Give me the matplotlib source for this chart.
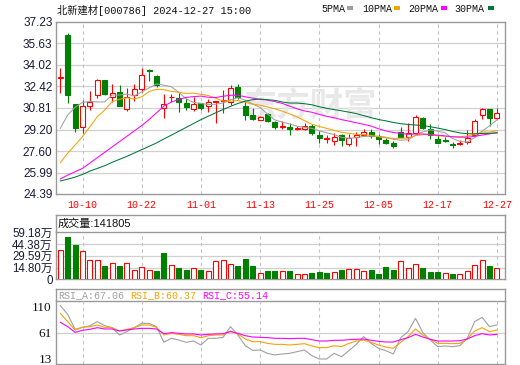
import matplotlib
matplotlib.use('Agg')
import matplotlib.pyplot as plt
from matplotlib.transforms import blended_transform_factory
from matplotlib.patches import Rectangle

# ---------------- data ----------------
title = '北新建材[000786] 2024-12-27 15:00'
date_labels = ['10-10', '10-22', '11-01', '11-13', '11-25', '12-05', '12-17', '12-27']
date_idx = [3, 11, 19, 27, 35, 43, 51, 59]

opens = [33.02, 36.26, 31.08, 29.37, 30.96, 31.78, 32.90, 31.61, 32.02, 30.76,
         31.80, 32.26, 33.62, 33.22, 30.83, 31.63, 31.53, 31.20, 30.73, 31.16,
         30.96, 31.26, 31.36, 31.28, 32.40, 30.96, 30.29, 29.91, 30.34, 29.79,
         29.42, 29.37, 29.27, 29.24, 29.46, 28.79, 28.53, 28.37, 28.79, 28.10,
         28.62, 28.79, 29.00, 28.62, 28.42, 28.22, 29.00, 28.67, 28.92, 30.09,
         29.24, 28.47, 28.39, 28.09, 28.10, 28.25, 28.79, 30.29, 30.71, 30.09]
highs = [33.77, 36.38, 31.10, 31.40, 32.08, 32.97, 32.92, 32.60, 32.50, 32.28,
         32.58, 33.77, 33.70, 33.28, 31.83, 31.85, 31.90, 31.58, 31.66, 31.20,
         31.48, 31.36, 32.15, 32.52, 32.60, 31.35, 30.79, 30.25, 30.45, 29.86,
         29.84, 29.68, 29.48, 29.71, 29.60, 29.09, 28.79, 28.92, 28.85, 28.85,
         29.04, 29.24, 29.24, 28.85, 28.55, 28.35, 29.41, 29.66, 30.29, 30.12,
         29.59, 28.79, 28.67, 28.30, 28.40, 29.17, 29.99, 30.83, 30.73, 30.83]
lows = [31.95, 31.16, 29.04, 28.92, 30.66, 31.53, 31.80, 31.28, 30.98, 30.61,
        31.33, 32.02, 32.85, 32.40, 30.05, 31.28, 30.53, 30.66, 30.58, 30.66,
        30.53, 29.70, 30.41, 31.03, 31.50, 29.91, 29.91, 29.91, 29.80, 29.22,
        29.22, 28.79, 29.18, 29.18, 28.79, 28.22, 28.17, 28.05, 27.97, 27.97,
        27.97, 28.72, 28.60, 28.12, 28.10, 27.85, 28.55, 28.35, 28.79, 29.22,
        28.50, 28.17, 28.25, 27.80, 28.05, 28.15, 28.72, 29.96, 29.46, 29.96]
closes = [33.10, 31.80, 29.34, 30.96, 31.28, 32.90, 31.85, 31.90, 30.98, 31.61,
          32.20, 33.30, 33.58, 32.52, 31.08, 31.65, 31.28, 30.90, 31.08, 30.79,
          31.28, 31.30, 31.44, 32.28, 31.66, 30.29, 29.96, 30.16, 29.84, 29.41,
          29.46, 29.27, 29.31, 29.46, 28.92, 28.58, 28.55, 28.67, 28.42, 28.55,
          28.79, 29.00, 28.72, 28.47, 28.17, 27.99, 28.67, 28.92, 30.16, 29.29,
          28.79, 28.17, 28.35, 28.05, 28.22, 28.55, 29.84, 30.71, 30.09, 30.41]

ma5 = [29.29, 30.29, 30.86, 31.23, 31.30, 31.26, 31.27, 31.78, 31.78, 31.85,
       31.71, 32.01, 32.31, 32.61, 32.51, 32.40, 31.98, 31.50, 31.23, 31.15,
       31.07, 31.09, 31.19, 31.42, 31.58, 31.39, 31.11, 30.85, 30.36, 29.92,
       29.76, 29.62, 29.45, 29.37, 29.29, 29.10, 28.96, 28.83, 28.62, 28.55,
       28.60, 28.69, 28.70, 28.71, 28.63, 28.47, 28.40, 28.44, 28.79, 29.02,
       29.18, 29.08, 28.96, 28.53, 28.32, 28.27, 28.60, 29.08, 29.48, 29.92]
ma10 = [26.73, 27.43, 28.05, 28.67, 29.41, 30.16, 30.66, 31.28, 31.46, 31.57,
        31.48, 31.64, 32.04, 32.20, 32.18, 32.05, 31.99, 31.90, 31.92, 31.83,
        31.74, 31.54, 31.34, 31.32, 31.37, 31.23, 31.10, 31.02, 30.89, 30.75,
        30.57, 30.37, 30.15, 29.86, 29.60, 29.43, 29.29, 29.14, 29.00, 28.92,
        28.85, 28.82, 28.76, 28.66, 28.59, 28.54, 28.55, 28.57, 28.75, 28.82,
        28.82, 28.74, 28.70, 28.66, 28.67, 28.72, 28.84, 29.02, 29.01, 29.12]
ma20 = [25.51, 25.80, 26.05, 26.30, 26.70, 27.10, 27.50, 27.90, 28.30, 28.70,
        29.10, 29.50, 29.95, 30.45, 30.95, 31.25, 31.45, 31.60, 31.66, 31.70,
        31.61, 31.59, 31.69, 31.76, 31.77, 31.64, 31.55, 31.46, 31.40, 31.29,
        31.15, 30.95, 30.75, 30.59, 30.49, 30.33, 30.19, 30.08, 29.94, 29.83,
        29.71, 29.59, 29.46, 29.26, 29.10, 28.98, 28.92, 28.85, 28.87, 28.87,
        28.84, 28.78, 28.73, 28.66, 28.63, 28.63, 28.69, 28.79, 28.88, 28.97]
ma30 = [25.36, 25.50, 25.65, 25.85, 26.10, 26.30, 26.50, 26.75, 26.98, 27.20,
        27.45, 27.70, 27.95, 28.20, 28.50, 28.78, 29.07, 29.36, 29.65, 29.94,
        30.20, 30.45, 30.70, 30.93, 31.15, 31.32, 31.43, 31.47, 31.43, 31.38,
        31.26, 31.18, 31.18, 31.13, 31.05, 30.90, 30.79, 30.69, 30.60, 30.50,
        30.39, 30.24, 30.09, 29.95, 29.85, 29.73, 29.64, 29.58, 29.54, 29.50,
        29.41, 29.31, 29.20, 29.06, 28.95, 28.89, 28.89, 28.91, 28.92, 28.95]

# volume in 万
volumes = [36.9, 53.3, 43.2, 35.6, 23.9, 23.9, 16.8, 20.1, 16.8, 20.1,
           11.7, 15.1, 11.7, 10.5, 33.1, 18.0, 14.2, 11.7, 13.9, 11.7,
           10.5, 22.7, 23.9, 19.3, 16.8, 25.6, 16.8, 7.6, 10.5, 10.5,
           10.5, 10.5, 6.7, 6.7, 8.4, 9.2, 8.0, 9.2, 11.7, 13.0,
           13.0, 10.9, 11.7, 6.7, 15.1, 11.7, 22.7, 14.6, 19.3, 13.9,
           9.6, 9.6, 7.6, 6.7, 6.7, 10.5, 17.6, 23.9, 16.4, 14.18]

rsi_a = [112, 95.6, 67.5, 71.2, 74.4, 81.9, 74.4, 70.6, 56.8, 63.1,
         70.6, 78.7, 78.7, 72.5, 43.0, 50.5, 47.4, 43.0, 45.5, 38.0,
         50.5, 50.5, 52.4, 72.5, 56.8, 36.7, 28.0, 28.6, 22.3, 19.2,
         21.1, 22.3, 25.5, 28.6, 17.9, 11.7, 11.7, 22.3, 16.0, 27.3,
         39.3, 53.7, 41.1, 31.7, 27.3, 21.1, 51.8, 63.1, 88.1, 61.2,
         47.4, 34.9, 36.1, 34.9, 36.7, 50.5, 81.9, 90.0, 72.5, 75.6]
rsi_b = [97.5, 81.9, 66.2, 71.2, 72.5, 75.6, 71.2, 70.6, 64.3, 67.5,
         70.6, 75.6, 75.6, 71.2, 56.8, 59.9, 58.0, 55.5, 55.5, 51.8,
         55.5, 56.8, 56.8, 64.3, 58.7, 49.3, 44.3, 44.3, 41.1, 39.2,
         39.2, 38.0, 39.2, 40.5, 36.1, 33.0, 33.0, 36.7, 34.9, 41.1,
         45.5, 47.4, 43.0, 38.0, 34.2, 31.7, 43.0, 53.7, 68.1, 56.8,
         48.7, 41.1, 41.1, 40.5, 41.1, 49.3, 64.3, 70.6, 63.1, 66.2]
rsi_c = [80.6, 72.5, 61.8, 65.6, 67.5, 70.6, 68.1, 68.1, 64.3, 66.2,
         68.1, 69.3, 69.3, 68.1, 59.3, 61.2, 59.9, 58.7, 58.7, 56.8,
         58.0, 58.7, 59.3, 63.1, 59.9, 55.5, 53.0, 52.4, 51.8, 50.5,
         50.5, 49.9, 50.5, 50.5, 48.0, 45.5, 45.5, 46.8, 46.8, 48.0,
         48.7, 49.3, 46.8, 44.9, 43.6, 43.6, 48.0, 51.8, 58.0, 53.0,
         48.7, 45.5, 45.5, 45.5, 46.1, 49.3, 55.5, 59.3, 56.8, 58.0]

price_ticks = [24.39, 25.99, 27.60, 29.20, 30.81, 32.42, 34.02, 35.63, 37.23]
vol_ticks = [0, 14.80, 29.59, 44.38, 59.18]
vol_tick_labels = ['0', '14.80万', '29.59万', '44.38万', '59.18万']
rsi_ticks = [13, 61, 110]
vol_title = '成交量:141805'
rsi_names = ['RSI_A:67.06', 'RSI_B:60.37', 'RSI_C:55.14']
ma_names = ['5PMA', '10PMA', '20PMA', '30PMA']
watermark = '东方财富'

# ---------------- style ----------------
RED = '#ff0000'
GREEN = '#008000'
MA_COLORS = ['#a0a0a0', '#f5a300', '#ff00ff', '#00773a']
BORDER = '#999999'
GRID = '#d0d0d0'
VGRID = '#c4c4c4'
TXT = '#1a1a3a'
CJK = 'Noto Sans CJK SC'

W, H = 520, 365
fig = plt.figure(figsize=(W / 100, H / 100), dpi=100)
fig.patch.set_facecolor('white')


def px_axes(x0, y0, x1, y1):
    return fig.add_axes([x0 / W, 1 - y1 / H, (x1 - x0) / W, (y1 - y0) / H])


L, R = 56, 505
STEP = 7.4
X0 = 60.3
xlim = ((L - X0) / STEP, (R - X0) / STEP)
n = len(closes)
xs = list(range(n))


def style_box(ax):
    for s in ax.spines.values():
        s.set_color(BORDER)
        s.set_linewidth(1.0)
    ax.set_xticks([])
    ax.set_facecolor('none')


def vgrid(ax):
    for i in date_idx:
        ax.axvline(i, color=VGRID, lw=0.8, dashes=(3, 3), zorder=0.5)


# ---------------- main price panel ----------------
ax = px_axes(L, 22, R, 194)
style_box(ax)
ax.set_xlim(*xlim)
ax.set_ylim(price_ticks[0], price_ticks[-1])
ax.set_yticks(price_ticks)
ax.set_yticklabels(['%.2f' % t for t in price_ticks], color=TXT,
                   family='Liberation Sans', fontsize=8.5)
ax.tick_params(axis='y', length=0, pad=2.5)
for t in price_ticks[1:-1]:
    ax.axhline(t, color=GRID, lw=0.9, zorder=0.5)
vgrid(ax)

# watermark
ax.text((310 - L) / (R - L), (194 - 107) / 172, watermark, transform=ax.transAxes,
        ha='center', va='center', fontsize=24, family=CJK, fontweight='bold',
        color='#e8e8e8', zorder=0.6)

bw = 0.68
for i in xs:
    o, h, l, c = opens[i], highs[i], lows[i], closes[i]
    up = c >= o
    col = RED if up else GREEN
    ax.vlines(i, l, h, color=col, lw=0.8, zorder=2)
    ax.bar(i, abs(c - o), bottom=min(o, c), width=bw,
           facecolor='white' if up else GREEN, edgecolor=col, lw=0.8, zorder=3)

for vals, col in zip([ma5, ma10, ma20, ma30], MA_COLORS):
    ax.plot(xs, vals, color=col, lw=0.75, zorder=4)

# title and MA legend
fig.text(57 / W, 1 - 10.5 / H, title, family=['Liberation Mono', CJK],
         fontsize=7.4, va='center', ha='left', color='#111111')
leg_x = [321.5, 362.5, 408.0, 454.0]
sq_x = [347, 394, 441, 488]
for name, col, tx, sx in zip(ma_names, MA_COLORS, leg_x, sq_x):
    fig.text(tx / W, 1 - 8.5 / H, name, family='Liberation Mono', fontsize=7.2,
             va='center', ha='left', color='#111111')
    fig.patches.append(Rectangle((sx / W, 1 - 10 / H), 5.5 / W, 3.5 / H,
                                 transform=fig.transFigure, facecolor=col,
                                 edgecolor='none'))

# date labels
trans = blended_transform_factory(ax.transData, fig.transFigure)
for i, lab in zip(date_idx, date_labels):
    ax.text(i, 1 - 205.5 / H, lab, transform=trans, ha='center', va='center',
            color=RED, family='Liberation Mono', fontsize=7.2, clip_on=False)

# ---------------- volume panel ----------------
vt = px_axes(L, 215, R, 232.3)
style_box(vt)
vt.set_yticks([])
vt.text(2 / (R - L), 0.5, vol_title, transform=vt.transAxes, ha='left', va='center',
        family=['Liberation Sans', CJK], fontsize=8, color='#111111')

va = px_axes(L, 232.3, R, 279.3)
style_box(va)
va.spines['top'].set_visible(False)
va.set_xlim(*xlim)
va.set_ylim(0, vol_ticks[-1])
va.set_yticks(vol_ticks)
va.set_yticklabels(vol_tick_labels, color=TXT, family=['Liberation Sans', CJK],
                   fontsize=8.3)
va.tick_params(axis='y', length=0, pad=2.5)
for t in vol_ticks[1:-1]:
    va.axhline(t, color=GRID, lw=0.9, zorder=0.5)
vgrid(va)
for i in xs:
    up = True if i == 0 else closes[i] >= closes[i - 1]
    va.bar(i, volumes[i], width=bw, bottom=0,
           facecolor='white' if up else GREEN, edgecolor=RED if up else GREEN,
           lw=0.8, zorder=3)

# ---------------- RSI panel ----------------
rt = px_axes(L, 289, R, 301)
style_box(rt)
rt.set_yticks([])
for name, col, tx in zip(rsi_names, MA_COLORS[:3], [58, 130, 202]):
    fig.text(tx / W, 1 - 295.5 / H, name, family='Liberation Mono', fontsize=7.2,
             va='center', ha='left', color=col)

ra = px_axes(L, 301, R, 364.3)
style_box(ra)
ra.spines['top'].set_visible(False)
ra.set_xlim(*xlim)
ra.set_ylim(1.7, 120.7)
ra.set_yticks(rsi_ticks)
ra.set_yticklabels([str(t) for t in rsi_ticks], color='#111111',
                   family='Liberation Serif', fontsize=9.5)
ra.tick_params(axis='y', length=0, pad=3)
ra.axhline(61, color=GRID, lw=0.9, zorder=0.5)
vgrid(ra)
for vals, col in zip([rsi_a, rsi_b, rsi_c], MA_COLORS[:3]):
    ra.plot(xs, vals, color=col, lw=0.8, zorder=3)

fig.savefig('out.png', dpi=100, facecolor='white')
